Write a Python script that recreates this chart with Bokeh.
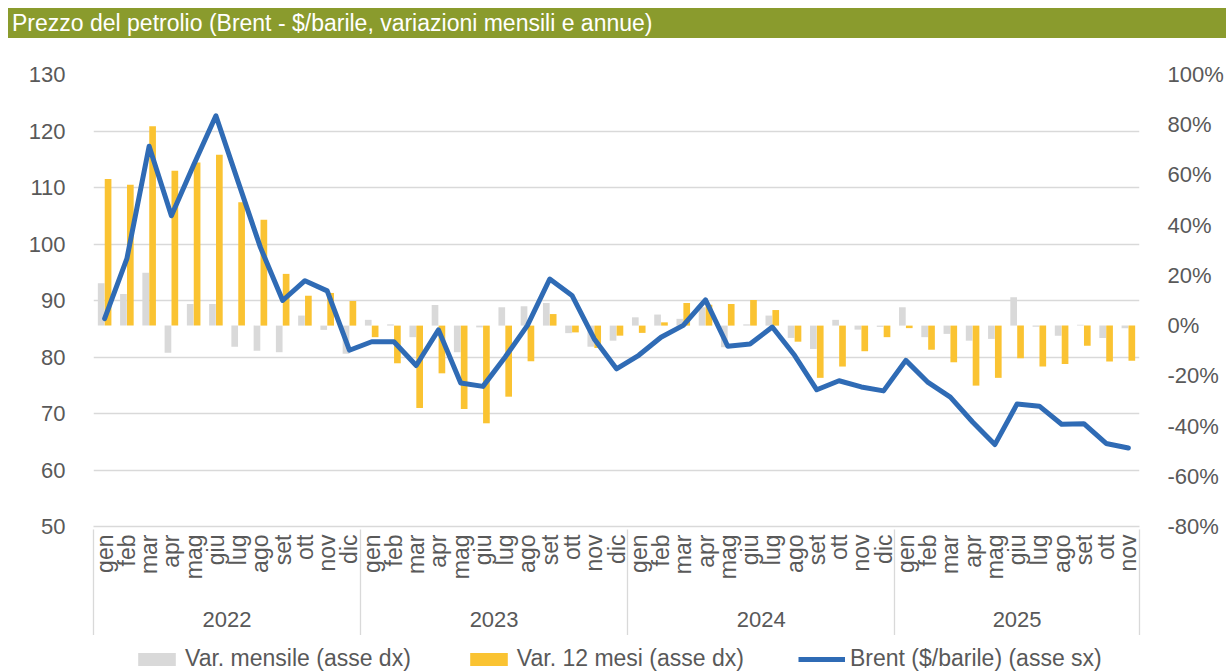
import math
from bokeh.plotting import figure
from bokeh.models import (Range1d, LinearAxis, FixedTicker, Legend, Div,
                          LegendItem, ColumnDataSource)
from bokeh.layouts import column
from bokeh.transform import dodge
from bokeh.embed import file_html
from bokeh.resources import INLINE

# ---------------- data ----------------
month_names = ["gen", "feb", "mar", "apr", "mag", "giu", "lug", "ago", "set", "ott", "nov", "dic"]
years = ["2022", "2023", "2024", "2025"]
months = month_names * 3 + month_names[:11]

brent = [86.8, 97.4, 117.3, 105.0, 114.0, 122.7, 111.0, 99.4, 90.0, 93.5, 91.7, 81.2,
         82.7, 82.7, 78.5, 84.8, 75.4, 74.8, 80.0, 85.6, 93.8, 90.9, 83.2, 77.9,
         80.3, 83.5, 85.6, 90.1, 81.9, 82.3, 85.3, 80.3, 74.2, 75.8, 74.7, 74.0,
         79.4, 75.5, 72.9, 68.5, 64.5, 71.7, 71.3, 68.1, 68.2, 64.7, 63.9]

var_mensile = [16.9, 12.6, 21.1, -10.8, 8.6, 8.6, -8.4, -10.0, -10.6, 4.0, -1.7, -11.2,
               2.3, 0.5, -4.6, 8.2, -10.6, -0.7, 7.3, 7.7, 9.0, -3.0, -8.4, -6.0,
               3.3, 4.4, 2.7, 7.3, -8.6, 0.5, 4.0, -4.9, -9.3, 2.3, -1.6, -0.5,
               7.3, -4.6, -3.3, -6.0, -5.3, 11.3, -0.5, -4.0, 0.3, -4.9, -1.1]

var_12m = [58.4, 56.1, 79.4, 61.7, 65.0, 68.0, 49.1, 42.2, 20.6, 11.9, 13.0, 9.8,
           -4.6, -15.0, -32.8, -19.0, -33.2, -38.9, -28.3, -14.2, 4.6, -2.7, -8.9, -4.0,
           -2.9, 1.3, 9.0, 8.3, 8.6, 10.2, 6.2, -6.4, -20.8, -16.3, -10.2, -4.6,
           -1.0, -9.6, -14.6, -23.9, -20.8, -13.0, -16.3, -15.3, -8.0, -14.3, -14.0]

left_ticks = [50, 60, 70, 80, 90, 100, 110, 120, 130]
right_ticks = [-80, -60, -40, -20, 0, 20, 40, 60, 80, 100]

title_text = "Prezzo del petrolio (Brent - $/barile, variazioni mensili e annue)"
legend_labels = ["Var. mensile (asse dx)", "Var. 12 mesi (asse dx)", "Brent ($/barile) (asse sx)"]

# ---------------- styles ----------------
FONT = "Liberation Sans"
TXT = "#595959"
GRID = "#d9d9d9"
C_GREY = "#d9d9d9"
C_YEL = "#FAC332"
C_BLUE = "#2F6BB5"
C_TITLE = "#8A9B2D"

n = len(months)
xs = list(range(n))
src = ColumnDataSource(dict(x=xs, brent=brent, mens=var_mensile, ann=var_12m))

title_div = Div(text=title_text, width=1218, height=30, margin=(8, 0, 0, 8),
                styles={"background-color": C_TITLE, "color": "white",
                        "font-family": FONT, "font-size": "23px",
                        "line-height": "30px", "padding-left": "4px",
                        "box-sizing": "border-box", "white-space": "nowrap",
                        "overflow": "hidden"})

# ---------------- main chart ----------------
p = figure(width=1226, height=597, output_backend="svg", toolbar_location=None,
           x_range=Range1d(-0.5, n - 0.5), y_range=Range1d(50, 130),
           min_border_left=93, min_border_right=85, min_border_top=36,
           min_border_bottom=109, margin=(0, 0, 0, 0))
p.extra_y_ranges = {"pct": Range1d(-80, 100)}
p.outline_line_color = None
p.xgrid.grid_line_color = None

lt = FixedTicker(ticks=left_ticks)
p.yaxis[0].ticker = lt
p.ygrid.ticker = lt
p.ygrid.grid_line_color = GRID
p.ygrid.grid_line_width = 1.3

rg = p.vbar(x=dodge("x", -0.155, range=p.x_range), top="mens", bottom=0, width=0.3,
            source=src, fill_color=C_GREY, line_color=None, y_range_name="pct")
ry = p.vbar(x=dodge("x", 0.155, range=p.x_range), top="ann", bottom=0, width=0.3,
            source=src, fill_color=C_YEL, line_color=None, y_range_name="pct")
rl = p.line(x="x", y="brent", source=src, line_color=C_BLUE, line_width=5,
            line_join="round", line_cap="round")

la = p.yaxis[0]
la.axis_line_color = None
la.major_tick_line_color = None
la.minor_tick_line_color = None
la.major_label_standoff = 22
la.major_label_text_font = FONT
la.major_label_text_font_size = "22px"
la.major_label_text_color = TXT

ra = LinearAxis(y_range_name="pct", ticker=FixedTicker(ticks=right_ticks),
                major_label_overrides={v: f"{v}%" for v in right_ticks})
ra.axis_line_color = None
ra.major_tick_line_color = None
ra.minor_tick_line_color = None
ra.major_label_standoff = 22
ra.major_label_text_font = FONT
ra.major_label_text_font_size = "22px"
ra.major_label_text_color = TXT
p.add_layout(ra, "right")

boundaries = [-0.5] + [i - 0.5 for i in range(12, n, 12)] + [n - 0.5]
xa = p.xaxis[0]
xa.ticker = FixedTicker(ticks=xs, minor_ticks=[])
xa.major_label_overrides = {i: m for i, m in enumerate(months)}
xa.major_label_orientation = math.pi / 2
xa.major_tick_line_color = None
xa.minor_tick_line_color = None
xa.major_tick_in = 0
xa.major_tick_out = 0
xa.minor_tick_in = 0
xa.minor_tick_out = 0
xa.axis_line_color = GRID
xa.axis_line_width = 1.3
xa.major_label_standoff = 8
xa.major_label_text_font = FONT
xa.major_label_text_font_size = "23px"
xa.major_label_text_color = TXT

year_centers = [(boundaries[k] + boundaries[k + 1]) / 2 for k in range(len(years))]
ya = LinearAxis(ticker=FixedTicker(ticks=year_centers, minor_ticks=boundaries),
                major_label_overrides={c: y for c, y in zip(year_centers, years)})
ya.axis_line_color = None
ya.major_tick_line_color = None
ya.major_tick_in = 0
ya.major_tick_out = 0
ya.minor_tick_line_color = GRID
ya.minor_tick_line_width = 1.3
ya.minor_tick_in = 53
ya.minor_tick_out = 56
ya.major_label_standoff = -27
ya.major_label_text_font = FONT
ya.major_label_text_font_size = "22px"
ya.major_label_text_color = TXT
p.add_layout(ya, "below")

# ---------------- legend strip ----------------
# same series, drawn outside this strip's visible range; only the legend shows
lf = figure(width=1226, height=37, output_backend="svg", toolbar_location=None,
            x_range=Range1d(-0.5, n - 0.5), y_range=Range1d(1000, 1001),
            min_border_left=0, min_border_right=0, min_border_top=0,
            min_border_bottom=0, margin=(0, 0, 0, 0))
lf.axis.visible = False
lf.grid.visible = False
lf.outline_line_color = None
lg = lf.vbar(x="x", top="mens", bottom=0, width=0.3, source=src,
             fill_color=C_GREY, line_color=None)
lyl = lf.vbar(x="x", top="ann", bottom=0, width=0.3, source=src,
              fill_color=C_YEL, line_color=None)
lbl = lf.line(x="x", y="brent", source=src, line_color=C_BLUE, line_width=5)

legend = Legend(items=[LegendItem(label=legend_labels[0], renderers=[lg]),
                       LegendItem(label=legend_labels[1], renderers=[lyl]),
                       LegendItem(label=legend_labels[2], renderers=[lbl])],
                orientation="horizontal", location=(40, 0),
                glyph_width=47, glyph_height=16, label_standoff=5, spacing=54,
                padding=0, margin=0, border_line_color=None, background_fill_alpha=0,
                label_text_font=FONT, label_text_font_size="23px",
                label_text_color=TXT)
lf.add_layout(legend)

layout = column(title_div, p, lf, spacing=0)
open("out.html", "w").write(file_html(layout, INLINE))
